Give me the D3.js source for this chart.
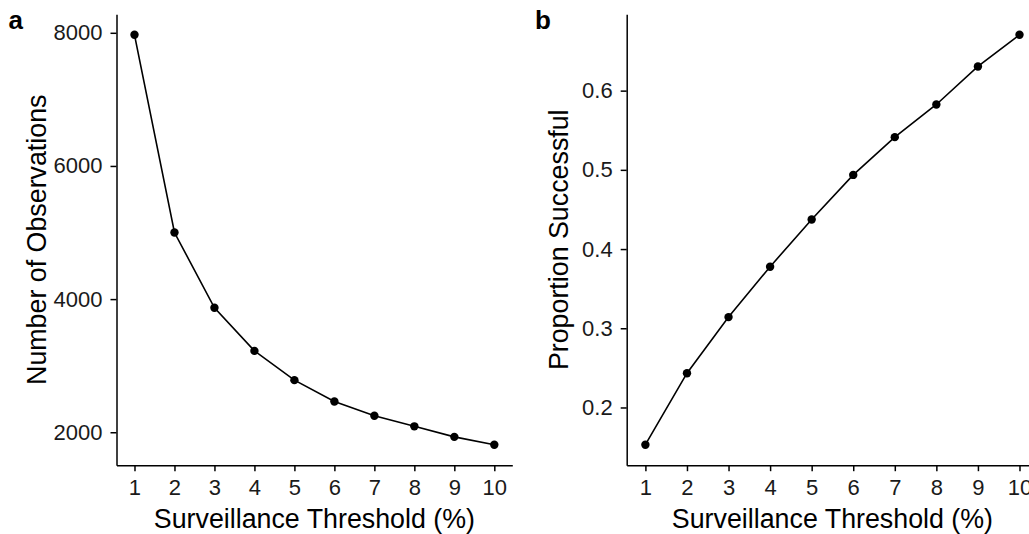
<!DOCTYPE html>
<html>
<head>
<meta charset="utf-8">
<script src="https://cdn.jsdelivr.net/npm/d3@7"></script>
<style>
  html, body { margin: 0; padding: 0; background: #fff; overflow: hidden; }
  svg { display: block; font-family: "Liberation Sans", Arial, Helvetica, sans-serif; }
</style>
</head>
<body>
<svg id="chart" width="1029" height="534"></svg>
<script>
// Surveillance thresholds (%) shared by both panels
const thresholds = [1, 2, 3, 4, 5, 6, 7, 8, 9, 10];
// Panel a: number of observations per threshold
const observations = [7970, 5000, 3870, 3222, 2783, 2461, 2247, 2089, 1931, 1813];
// Panel b: proportion successful per threshold
const proportionSuccessful = [0.153, 0.2433, 0.3141, 0.3777, 0.4374, 0.4936, 0.5413, 0.5825, 0.6305, 0.6705];

const ticksA = [2000, 4000, 6000, 8000];
const ticksB = [0.2, 0.3, 0.4, 0.5, 0.6];

const svg = d3.select("#chart");

// ggplot-style 5% expansion of a continuous range
function expand(lo, hi, f = 0.05) {
  const pad = (hi - lo) * f;
  return [lo - pad, hi + pad];
}

const plotTop = 14.3, plotBottom = 465.2;
const titleSize = "26.8px", tickSize = "22px";

function panel(opts) {
  const { left, right, values, yTicks, yFormat, yTitle, yTitleX, tag, tagX } = opts;
  const g = svg.append("g");

  const x = d3.scaleLinear()
    .domain(expand(d3.min(thresholds), d3.max(thresholds)))
    .range([left, right]);
  const y = d3.scaleLinear()
    .domain(expand(d3.min(values), d3.max(values)))
    .range([plotBottom, plotTop]);

  // x axis
  const xAxis = g.append("g")
    .attr("transform", `translate(0,${plotBottom})`)
    .call(d3.axisBottom(x).tickValues(thresholds).tickFormat(d3.format("d"))
      .tickSize(6).tickPadding(8).tickSizeOuter(0));
  // y axis
  const yAxis = g.append("g")
    .attr("transform", `translate(${left},0)`)
    .call(d3.axisLeft(y).tickValues(yTicks).tickFormat(yFormat)
      .tickSize(6).tickPadding(8).tickSizeOuter(0));

  [xAxis, yAxis].forEach(ax => {
    ax.select(".domain").attr("stroke", "#000").attr("stroke-width", 1.5);
    ax.selectAll(".tick line").attr("stroke", "#000").attr("stroke-width", 1.5);
    ax.selectAll(".tick text")
      .attr("fill", "#1a1a1a")
      .style("font-size", tickSize)
      .style("font-family", "'Liberation Sans', Arial, Helvetica, sans-serif");
  });

  // connecting line
  const line = d3.line()
    .x((d, i) => x(thresholds[i]))
    .y(d => y(d));
  g.append("path")
    .datum(values)
    .attr("fill", "none")
    .attr("stroke", "#000")
    .attr("stroke-width", 1.6)
    .attr("d", line);

  // points
  g.selectAll("circle.pt")
    .data(values)
    .join("circle")
    .attr("class", "pt")
    .attr("cx", (d, i) => x(thresholds[i]))
    .attr("cy", d => y(d))
    .attr("r", 4.2)
    .attr("fill", "#000");

  // axis titles
  g.append("text")
    .attr("x", (left + right) / 2)
    .attr("y", 528)
    .attr("text-anchor", "middle")
    .style("font-size", titleSize)
    .attr("fill", "#000")
    .text("Surveillance Threshold (%)");

  g.append("text")
    .attr("transform", `translate(${yTitleX},${(plotTop + plotBottom) / 2}) rotate(-90)`)
    .attr("text-anchor", "middle")
    .style("font-size", titleSize)
    .attr("fill", "#000")
    .text(yTitle);

  // panel tag
  g.append("text")
    .attr("x", tagX)
    .attr("y", 29.3)
    .style("font-size", "26px")
    .style("font-weight", "bold")
    .attr("fill", "#000")
    .text(tag);
}

panel({
  left: 116.5, right: 512.3, values: observations, yTicks: ticksA,
  yFormat: d3.format("d"), yTitle: "Number of Observations", yTitleX: 46,
  tag: "a", tagX: 8.5
});

panel({
  left: 626.7, right: 1038.2, values: proportionSuccessful, yTicks: ticksB,
  yFormat: d3.format(".1f"), yTitle: "Proportion Successful", yTitleX: 567.5,
  tag: "b", tagX: 535
});
</script>
</body>
</html>
